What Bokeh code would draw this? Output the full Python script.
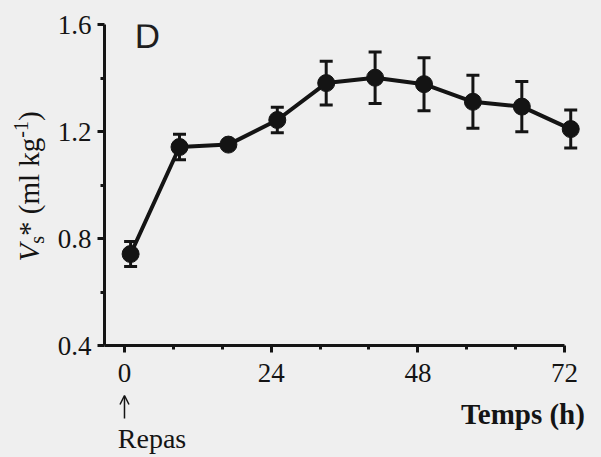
import math
from bokeh.plotting import figure
from bokeh.layouts import column, row
from bokeh.models import (ColumnDataSource, Whisker, TeeHead, Label, Arrow, OpenHead,
                          FixedTicker, Range1d)
from bokeh.core.properties import value
from bokeh.embed import file_html
from bokeh.resources import INLINE

# ---- data ----
hours = [1, 9, 17, 25, 33, 41, 49, 57, 65, 73]
vs = [0.742, 1.142, 1.151, 1.243, 1.381, 1.401, 1.377, 1.311, 1.293, 1.209]
err = [0.047, 0.048, 0.010, 0.048, 0.082, 0.096, 0.099, 0.099, 0.094, 0.071]
x_major = [0, 24, 48, 72]
x_minor = [8, 16, 32, 40, 56, 64]
y_major = [0.4, 0.8, 1.2, 1.6]
y_minor = [0.6, 1.0, 1.4]
meal_time = 0

BG = "#efefef"
INK = "#141414"
SERIF = "Liberation Serif"
MAIN_H = 394
F_TOP, F_BOT = 24, 345      # frame top / bottom in page pixels

src = ColumnDataSource(dict(
    x=hours, y=vs,
    upper=[v + e for v, e in zip(vs, err)],
    lower=[v - e for v, e in zip(vs, err)],
))


def bare(fig):
    fig.background_fill_color = BG
    fig.border_fill_color = BG
    fig.outline_line_color = None
    fig.grid.visible = False
    fig.axis.visible = False
    return fig


# ---- main plot ----
p = figure(width=551, height=MAIN_H, title=None,
           x_range=Range1d(-3.27, 74.6), y_range=Range1d(0.4, 1.6),
           output_backend="svg", toolbar_location=None,
           min_border_left=54, min_border_right=21,
           min_border_top=F_TOP, min_border_bottom=MAIN_H - F_BOT)
p.background_fill_color = BG
p.border_fill_color = BG
p.outline_line_color = None
p.grid.visible = False

p.xaxis.ticker = FixedTicker(ticks=x_major, minor_ticks=x_minor)
p.yaxis.ticker = FixedTicker(ticks=y_major, minor_ticks=y_minor)
p.xaxis.bounds = (-3.27, 72)
for ax in (p.xaxis, p.yaxis):
    ax.axis_line_width = 3
    ax.axis_line_color = INK
    ax.major_tick_line_width = 3
    ax.major_tick_line_color = INK
    ax.minor_tick_line_width = 3
    ax.minor_tick_line_color = INK
    ax.major_tick_in = 0
    ax.major_tick_out = 7
    ax.minor_tick_in = 0
    ax.minor_tick_out = 4
    ax.major_label_text_font = SERIF
    ax.major_label_text_font_size = "27px"
    ax.major_label_text_color = INK
p.xaxis.major_label_standoff = 11
p.yaxis.major_label_standoff = 6

p.add_layout(Whisker(source=src, base="x", upper="upper", lower="lower",
                     line_width=3, line_color=INK,
                     upper_head=TeeHead(size=13, line_width=3, line_color=INK),
                     lower_head=TeeHead(size=13, line_width=3, line_color=INK)))
p.line("x", "y", source=src, line_width=4, line_color=INK)
p.scatter("x", "y", source=src, size=17, fill_color=INK, line_color=INK)

p.add_layout(Label(x=147 - 104, y=F_BOT - 35, x_units="screen", y_units="screen", text="D",
                   text_font="Liberation Sans", text_font_size="35px",
                   text_align="center", text_baseline="middle", text_color="#1e1e1e"))

# ---- left strip: rotated y-axis title V_s* (ml kg^-1) ----
pl = bare(figure(width=50, height=MAIN_H, title=None,
                 x_range=Range1d(0, 50), y_range=Range1d(F_BOT, F_TOP),
                 output_backend="svg", toolbar_location=None,
                 min_border_left=0, min_border_right=0,
                 min_border_top=F_TOP, min_border_bottom=MAIN_H - F_BOT))
rot = math.pi / 2
pieces = [
    ("V", "italic", "29px", 28.4, 252.2),
    ("s", "normal", "20px", 36.4, 239.4),
    ("*", "normal", "29px", 28.1, 228.3),
    ("(ml kg", "normal", "29px", 28.1, 175.5),
    ("-1", "normal", "20px", 20.2, 128.9),
    (")", "normal", "29px", 28.1, 115.7),
]
for txt, style, size, cx, cy in pieces:
    pl.text(x=[cx], y=[cy], text=[txt], angle=rot,
            text_font=value(SERIF), text_font_size=value(size),
            text_font_style=style, text_color=INK,
            text_align="center", text_baseline="middle")

# ---- bottom strip: x-axis title and meal marker ----
scale = (580 - 104) / (74.6 + 3.27)          # px per hour of the main plot
x0_px = 104 + 3.27 * scale                    # canvas x of hour 0
pb = bare(figure(width=601, height=457 - MAIN_H, title=None,
                 x_range=Range1d(-x0_px / scale, (601 - x0_px) / scale),
                 y_range=Range1d(457, MAIN_H),
                 output_backend="svg", toolbar_location=None,
                 min_border=0))
pb.add_layout(Arrow(x_start=meal_time, y_start=418, x_end=meal_time, y_end=MAIN_H + 1,
                    line_width=1.5, line_color=INK,
                    end=OpenHead(size=9, line_width=1.5, line_color=INK)))
pb.text(x=[meal_time + 27.5 / scale], y=[438], text=["Repas"],
        text_font=value(SERIF), text_font_size=value("28px"), text_color=INK,
        text_align="center", text_baseline="middle")
pb.text(x=[(522.5 - x0_px) / scale], y=[413], text=["Temps (h)"],
        text_font=value(SERIF), text_font_size=value("29px"), text_font_style="bold",
        text_color=INK, text_align="center", text_baseline="middle")

top = row(pl, p, styles={"background-color": BG})
layout = column(top, pb, styles={"background-color": BG})
open("out.html", "w").write(file_html(layout, INLINE))
